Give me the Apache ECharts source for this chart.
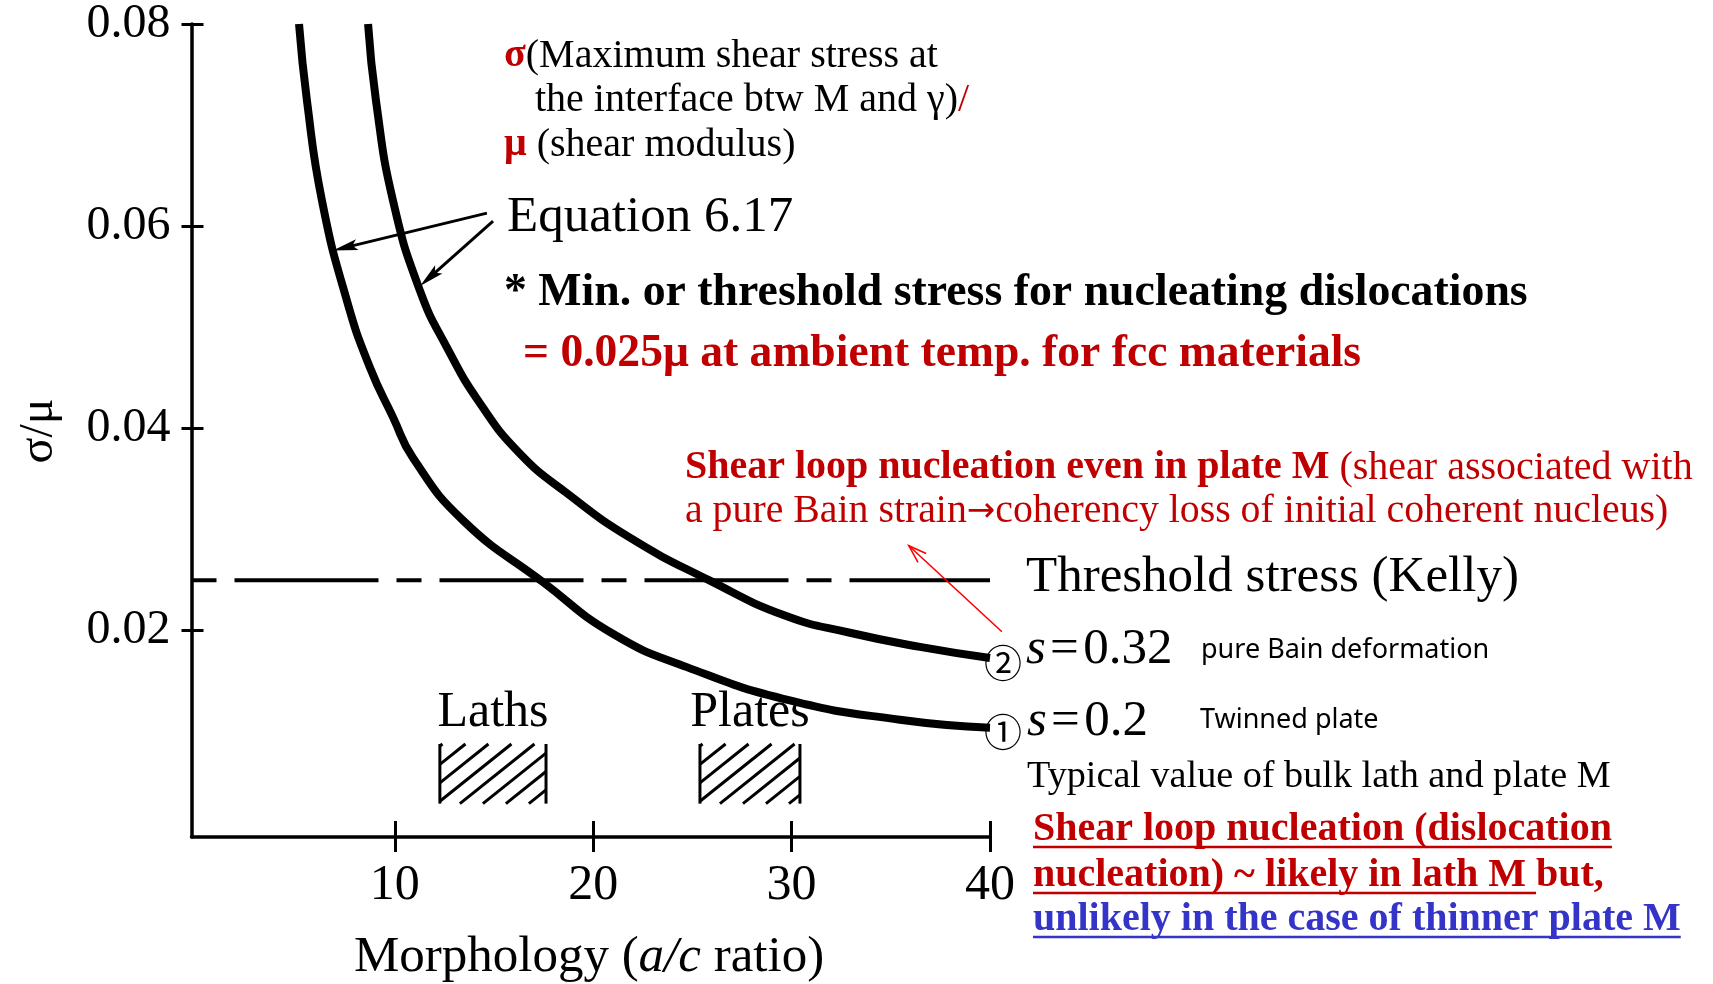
<!DOCTYPE html>
<html>
<head>
<meta charset="utf-8">
<script src="https://cdn.jsdelivr.net/npm/echarts@6/dist/echarts.min.js"></script>
<style>
  html, body { margin: 0; padding: 0; background: #fff; }
  #chart { width: 1713px; height: 984px; }
</style>
</head>
<body>
<div id="chart"></div>
<script>
// ---- axis ranges and ticks ----
const xRange = [-0.25, 40];
const yRange = [-0.0004, 0.08];
const xTicks = [10, 20, 30, 40];
const yTicks = [0.02, 0.04, 0.06, 0.08];

// ---- Equation 6.17 curves: [a/c ratio, sigma/mu] ----
const curveS02 = [
  [5.17, 0.0800], [5.57, 0.0724], [6.33, 0.0625], [7.59, 0.0526], [8.75, 0.0460],
  [9.91, 0.0411], [10.91, 0.0371], [13.44, 0.0309], [17.47, 0.0248], [20.99, 0.0197],
  [24.72, 0.0164], [29.91, 0.0131], [35.46, 0.0112], [40.0, 0.0104]
];
const curveS032 = [
  [8.65, 0.0800], [9.05, 0.0724], [9.91, 0.0625], [11.27, 0.0536], [12.63, 0.0480],
  [14.29, 0.0425], [16.31, 0.0375], [18.67, 0.0336], [21.85, 0.0292], [25.83, 0.0250],
  [29.66, 0.0215], [32.94, 0.0198], [36.47, 0.0184], [40.0, 0.0173]
];

// Kelly threshold stress (sigma/mu)
const threshold = 0.025;

// ---- morphology bands ----
const boxNames = ['Laths', 'Plates'];
const boxX = [[12.27, 17.62], [25.38, 30.42]];
const boxY = [0.0029, 0.0088];

// ---- annotation arrows: [fromX, fromY, toX, toY, kind] (kind 0 = black, 1 = red) ----
const arrows = [
  [14.64, 0.0613, 6.88, 0.0576, 0],
  [14.95, 0.0605, 11.27, 0.0541, 0],
  [40.6, 0.0199, 35.91, 0.0284, 1]
];

const RED = '#c00000';
const BLUE = '#3434c8';
const SERIF = '"Liberation Serif", "DejaVu Serif", serif';
const SANS = '"Noto Sans", "DejaVu Sans", sans-serif';
const CJK = '"Noto Sans CJK KR", "Noto Sans CJK SC", sans-serif';

function measure(text, font) {
  const c = measure.ctx || (measure.ctx = document.createElement('canvas').getContext('2d'));
  c.font = font;
  return c.measureText(text).width;
}

// free-standing text blocks (left edge, baseline, size)
const graphics = [];
function addText(x, base, size, text, o) {
  graphics.push({
    type: 'text', x: x, y: base - 0.3 * size, silent: true,
    style: Object.assign({
      text: text, fontFamily: SERIF, fontSize: size, fill: '#000',
      align: 'left', verticalAlign: 'middle'
    }, o || {})
  });
}
function addUnderline(x, base, w, color) {
  graphics.push({
    type: 'line', silent: true,
    shape: { x1: x, y1: base + 5, x2: x + w, y2: base + 5 },
    style: { stroke: color, lineWidth: 2.5 }
  });
}
function rs(o) { return Object.assign({ fontFamily: SERIF }, o); }

addText(504, 68, 40, '{r|σ}(Maximum shear stress at',
  { rich: { r: rs({ fill: RED, fontWeight: 'bold', fontSize: 40 }) } });
addText(535, 112, 40, 'the interface btw M and γ){r|/}',
  { rich: { r: rs({ fill: RED, fontSize: 40 }) } });
addText(504, 157, 40, '{r|μ} (shear modulus)',
  { rich: { r: rs({ fill: RED, fontWeight: 'bold', fontSize: 40 }) } });
addText(507, 233, 51, 'Equation 6.17');
addText(504, 307, 45.8, '* Min. or threshold stress for nucleating dislocations', { fontWeight: 'bold' });
addText(523, 368, 45.6, '= 0.025μ at ambient temp. for fcc materials', { fontWeight: 'bold', fill: RED });
addText(685, 480, 40, '{b|Shear loop nucleation even in plate M} (shear associated with',
  { fill: RED, rich: { b: rs({ fill: RED, fontWeight: 'bold', fontSize: 40 }) } });
addText(685, 523, 39.8, 'a pure Bain strain{a|→}coherency loss of initial coherent nucleus)',
  { fill: RED, rich: { a: { fontFamily: SANS, fontSize: 34, fill: RED } } });
addText(1026, 593, 51, 'Threshold stress (Kelly)');

graphics.push({ type: 'text', x: 1003, y: 663, silent: true,
  style: { text: '②', fontFamily: CJK, fontSize: 38, fill: '#000', align: 'center', verticalAlign: 'middle' } });
addText(1026, 665, 51, '{i|s}\u200a=\u200a0.32', { rich: { i: rs({ fontStyle: 'italic', fontSize: 51 }) } });
addText(1201, 658, 27, 'pure Bain deformation', { fontFamily: SANS });

graphics.push({ type: 'text', x: 1003, y: 732, silent: true,
  style: { text: '①', fontFamily: CJK, fontSize: 38, fill: '#000', align: 'center', verticalAlign: 'middle' } });
addText(1027, 737, 51, '{i|s}\u200a=\u200a0.2', { rich: { i: rs({ fontStyle: 'italic', fontSize: 51 }) } });
addText(1200, 728, 27, 'Twinned plate', { fontFamily: SANS });

addText(1027, 788, 38.2, 'Typical value of bulk lath and plate M');

const boldFont = 'bold 40px ' + SERIF;
const c1 = 'Shear loop nucleation (dislocation';
addText(1033, 842, 40, c1, { fontWeight: 'bold', fill: RED });
addUnderline(1033, 842, measure(c1, boldFont), RED);
const c2a = 'nucleation) ~ likely in lath M ';
addText(1033, 888, 40, c2a + 'but,', { fontWeight: 'bold', fill: RED });
addUnderline(1033, 888, measure(c2a, boldFont), RED);
const c3 = 'unlikely in the case of thinner plate M';
addText(1033, 932, 40, c3, { fontWeight: 'bold', fill: BLUE });
addUnderline(1033, 932, measure(c3, boldFont), BLUE);

// axis titles
graphics.push({ type: 'text', x: 589, y: 973 - 15, silent: true,
  style: { text: 'Morphology ({i|a/c} ratio)', fontFamily: SERIF, fontSize: 51, fill: '#000',
    align: 'center', verticalAlign: 'middle',
    rich: { i: rs({ fontStyle: 'italic', fontSize: 51 }) } } });
graphics.push({ type: 'text', x: 39, y: 431, rotation: Math.PI / 2, silent: true,
  style: { text: 'σ/μ', fontFamily: SERIF, fontSize: 48, fill: '#000', align: 'center', verticalAlign: 'middle' } });

// hatched morphology bands
function renderBox(params, api) {
  const p1 = api.coord([api.value(0), api.value(3)]);
  const p2 = api.coord([api.value(1), api.value(2)]);
  const L = p1[0], T = p1[1], R = p2[0], B = p2[1];
  const slope = 0.8, step = 23;
  const run = (B - T) / slope;
  const children = [];
  const st = { stroke: '#000', lineWidth: 3 };
  for (let x0 = L + 20 - step * Math.ceil(run / step + 1); x0 < R; x0 += step) {
    const xa = Math.max(L, x0), xb = Math.min(R, x0 + run);
    if (xb - xa < 1) continue;
    children.push({ type: 'line', shape: { x1: xa, y1: B - slope * (xa - x0), x2: xb, y2: B - slope * (xb - x0) }, style: st });
  }
  children.push({ type: 'line', shape: { x1: L, y1: T, x2: L, y2: B }, style: st });
  children.push({ type: 'line', shape: { x1: R, y1: T, x2: R, y2: B }, style: st });
  children.push({ type: 'text', x: (L + R) / 2, y: T - 31,
    style: { text: boxNames[params.dataIndex], fontFamily: SERIF, fontSize: 50, fill: '#000', align: 'center', verticalAlign: 'middle' } });
  return { type: 'group', children: children };
}

// annotation arrows
function renderArrow(params, api) {
  const a = api.coord([api.value(0), api.value(1)]);
  const b = api.coord([api.value(2), api.value(3)]);
  const red = api.value(4) === 1;
  const dx = b[0] - a[0], dy = b[1] - a[1];
  const len = Math.sqrt(dx * dx + dy * dy);
  const ux = dx / len, uy = dy / len, nx = -uy, ny = ux;
  if (red) {
    const h = 18, w = 6;
    return { type: 'group', children: [
      { type: 'line', shape: { x1: a[0], y1: a[1], x2: b[0], y2: b[1] }, style: { stroke: '#ff0000', lineWidth: 1.6 } },
      { type: 'polyline', shape: { points: [
        [b[0] - ux * h + nx * w, b[1] - uy * h + ny * w], [b[0], b[1]],
        [b[0] - ux * h - nx * w, b[1] - uy * h - ny * w]] },
        style: { stroke: '#ff0000', lineWidth: 1.6, fill: null } }
    ] };
  }
  const h = 25, w = 5.5;
  return { type: 'group', children: [
    { type: 'line', shape: { x1: a[0], y1: a[1], x2: b[0] - ux * h * 0.7, y2: b[1] - uy * h * 0.7 }, style: { stroke: '#000', lineWidth: 3 } },
    { type: 'polygon', shape: { points: [
      [b[0], b[1]],
      [b[0] - ux * h + nx * w, b[1] - uy * h + ny * w],
      [b[0] - ux * h * 0.8, b[1] - uy * h * 0.8],
      [b[0] - ux * h - nx * w, b[1] - uy * h - ny * w]] },
      style: { fill: '#000' } }
  ] };
}

const axisColor = '#000';
const chart = echarts.init(document.getElementById('chart'), null, { renderer: 'canvas' });
chart.setOption({
  animation: false,
  backgroundColor: '#fff',
  grid: { left: 191.5, top: 23, width: 798.5, height: 814, containLabel: false },
  xAxis: [
    {
      type: 'value', min: xRange[0], max: xRange[1], position: 'bottom',
      axisLine: { show: true, onZero: false, lineStyle: { color: axisColor, width: 3.5 } },
      axisTick: { show: true, inside: false, length: 15, customValues: xTicks, lineStyle: { color: axisColor, width: 3 } },
      axisLabel: { customValues: xTicks, margin: 24, fontFamily: SERIF, fontSize: 50, color: '#000',
        formatter: v => String(v) },
      splitLine: { show: false }
    },
    {
      type: 'value', min: xRange[0], max: xRange[1], position: 'bottom',
      axisLine: { show: false, onZero: false },
      axisTick: { show: true, inside: true, length: 16, customValues: xTicks, lineStyle: { color: axisColor, width: 3 } },
      axisLabel: { show: false },
      splitLine: { show: false }
    }
  ],
  yAxis: [
    {
      type: 'value', min: yRange[0], max: yRange[1], position: 'left',
      axisLine: { show: true, onZero: false, lineStyle: { color: axisColor, width: 3.5 } },
      axisTick: { show: true, inside: false, length: 10, customValues: yTicks, lineStyle: { color: axisColor, width: 3 } },
      axisLabel: { customValues: yTicks, margin: 21, fontFamily: SERIF, fontSize: 48, color: '#000',
        formatter: v => v.toFixed(2) },
      splitLine: { show: false }
    },
    {
      type: 'value', min: yRange[0], max: yRange[1], position: 'left',
      axisLine: { show: false, onZero: false },
      axisTick: { show: true, inside: true, length: 12, customValues: yTicks, lineStyle: { color: axisColor, width: 3 } },
      axisLabel: { show: false },
      splitLine: { show: false }
    }
  ],
  series: [
    {
      name: 's = 0.2', type: 'line', data: curveS02, symbol: 'none', smooth: 0.5,
      lineStyle: { color: '#000', width: 8, cap: 'butt' }, silent: true, z: 3
    },
    {
      name: 's = 0.32', type: 'line', data: curveS032, symbol: 'none', smooth: 0.5,
      lineStyle: { color: '#000', width: 8, cap: 'butt' }, silent: true, z: 3
    },
    {
      name: 'Threshold stress (Kelly)', type: 'line', symbol: 'none', silent: true, z: 2,
      data: [[xRange[0], threshold], [xRange[1], threshold]],
      lineStyle: { color: '#000', width: 4, type: [25, 18, 144, 18], cap: 'butt' }
    },
    {
      type: 'custom', renderItem: renderBox, silent: true, clip: false,
      encode: { x: [0, 1], y: [2, 3] },
      data: boxNames.map((n, i) => [boxX[i][0], boxX[i][1], boxY[0], boxY[1]])
    },
    {
      type: 'custom', renderItem: renderArrow, silent: true, clip: false, z: 4,
      encode: { x: [0, 2], y: [1, 3] },
      data: arrows
    }
  ],
  graphic: graphics
});
</script>
</body>
</html>
